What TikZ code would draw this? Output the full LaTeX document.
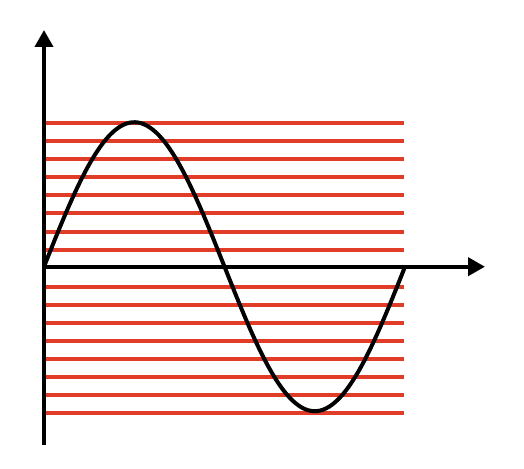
\documentclass[tikz,border=0pt]{standalone}
\usetikzlibrary{arrows.meta}
\definecolor{gridred}{RGB}{224,60,40}
\begin{document}
\begin{tikzpicture}[x=1pt,y=-1pt,
  axisline/.style={line width=4pt,-{Triangle[length=17pt,width=18pt]}},
  redline/.style={gridred,line width=4pt},
  wave/.style={line width=4pt,line join=round}]
\useasboundingbox (0,0) rectangle (524,468);
\coordinate (o) at (44,266.7);
\coordinate (ybot) at (44,444.5);
\coordinate (ytop) at (44,30);
\coordinate (xleft) at (42,266.7);
\coordinate (xright) at (485,266.7);
% red lines
\foreach \i in {0,...,7}{
  \draw[redline] (42.5,{122.7+\i*18.14}) -- (404,{122.7+\i*18.14});
  \draw[redline] (42.5,{286.7+\i*18}) -- (404,{286.7+\i*18});
}
% axes
\draw[axisline] (ybot) -- (ytop);
\draw[axisline] (xleft) -- (xright);
% sine
\draw[wave] plot[domain=0:360,samples=120,smooth] ({44+\x*1.002778},{266.7-144.5*sin(\x)});
\end{tikzpicture}
\end{document}
